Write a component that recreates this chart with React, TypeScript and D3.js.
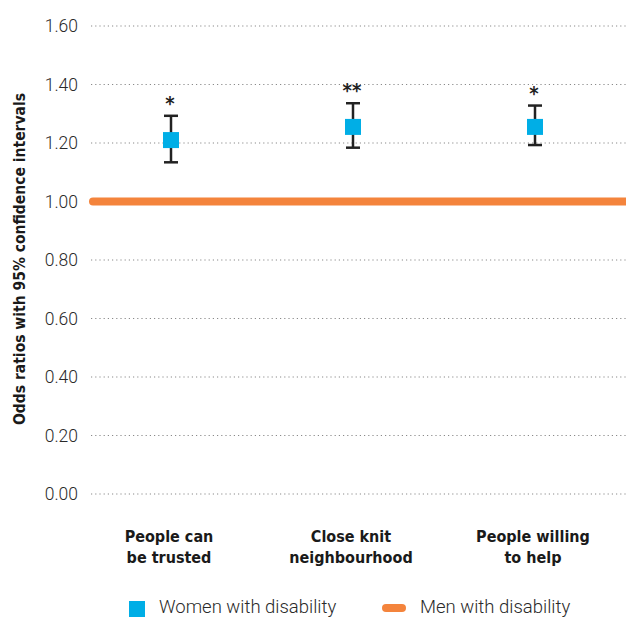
import React from "react";
import * as d3 from "d3";

const categories = ["People can|be trusted", "Close knit|neighbourhood", "People willing|to help"];
const oddsRatios = [1.21, 1.255, 1.255];
const ciLower = [1.134, 1.184, 1.193];
const ciUpper = [1.293, 1.336, 1.328];
const significance = ["*", "**", "*"];
const yTicks = [0, 0.2, 0.4, 0.6, 0.8, 1.0, 1.2, 1.4, 1.6];
const referenceValue = 1.0;
const legendLabels = ["Women with disability", "Men with disability"];

const W = 626;
const H = 617;
const BLUE = "#00AEE6";
const ORANGE = "#F4843C";

export default function App() {
  const y = d3.scaleLinear().domain([0, 1.6]).range([494, 26]);
  const x = d3.scaleBand<string>().domain(categories).range([80, 626]);
  const font = "'DejaVu Sans Condensed', 'Open Sans', sans-serif";
  return (
    <svg width={W} height={H} style={{ position: "absolute", left: 0, top: 0, background: "#fff" }}>
      {yTicks.map((t) => (
        <g key={t}>
          <line x1={91} x2={626} y1={y(t)} y2={y(t)} stroke="#8a8a8a" strokeWidth={1.2} strokeDasharray="1.2,3" />
          <text x={78} y={y(t)} dy="0.35em" textAnchor="end" fontFamily="Roboto, sans-serif" fontWeight={300} fontSize={17.5} fill="#2a2a2a">
            {t.toFixed(2)}
          </text>
        </g>
      ))}
      <line x1={93} x2={640} y1={y(referenceValue)} y2={y(referenceValue)} stroke={ORANGE} strokeWidth={8} strokeLinecap="round" />
      {categories.map((c, i) => {
        const cx = x(c)! + x.bandwidth() / 2;
        return (
          <g key={c}>
            <line x1={cx} x2={cx} y1={y(ciLower[i])} y2={y(ciUpper[i])} stroke="#222" strokeWidth={2.5} />
            <line x1={cx - 7} x2={cx + 7} y1={y(ciLower[i])} y2={y(ciLower[i])} stroke="#222" strokeWidth={2.5} />
            <line x1={cx - 7} x2={cx + 7} y1={y(ciUpper[i])} y2={y(ciUpper[i])} stroke="#222" strokeWidth={2.5} />
            <rect x={cx - 8} y={y(oddsRatios[i]) - 8} width={16} height={16} fill={BLUE} />
            <text x={cx - 1} y={y(ciUpper[i]) - 6} textAnchor="middle" fontFamily={font} fontWeight="bold" fontSize={20} fill="#222">
              {significance[i]}
            </text>
            {c.split("|").map((line, j) => (
              <text key={j} x={cx - 2} y={542 + j * 21} textAnchor="middle" fontFamily={font} fontWeight="bold" fontSize={16} fill="#1a1a1a">
                {line}
              </text>
            ))}
          </g>
        );
      })}
      <text transform={`translate(25,${259}) rotate(-90)`} textAnchor="middle" fontFamily={font} fontWeight="bold" fontSize={15.5} fill="#1a1a1a">
        Odds ratios with 95% confidence intervals
      </text>
      <rect x={129} y={601} width={16} height={16} fill={BLUE} />
      <text x={159} y={613} fontFamily="Roboto, sans-serif" fontWeight={300} fontSize={18.5} fill="#2a2a2a">{legendLabels[0]}</text>
      <line x1={386} x2={402} y1={608} y2={608} stroke={ORANGE} strokeWidth={8} strokeLinecap="round" />
      <text x={420} y={613} fontFamily="Roboto, sans-serif" fontWeight={300} fontSize={18.5} fill="#2a2a2a">{legendLabels[1]}</text>
    </svg>
  );
}
